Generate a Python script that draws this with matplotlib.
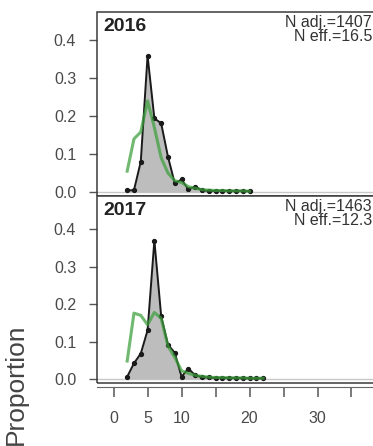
"""Age composition fit: observed vs expected proportions, 2016 and 2017."""

import matplotlib
matplotlib.use("Agg")
import matplotlib.pyplot as plt
from matplotlib.patches import Rectangle

plt.rcParams["font.family"] = ["Liberation Sans", "DejaVu Sans"]

# --- data ------------------------------------------------------------------
ages_2016 = list(range(2, 21))
obs_2016 = [0.004, 0.005, 0.080, 0.359, 0.194, 0.181, 0.093, 0.023, 0.033,
            0.007, 0.014, 0.005, 0.003, 0.003, 0.003, 0.003, 0.003, 0.003, 0.002]
exp_2016 = [0.055, 0.140, 0.158, 0.240, 0.170, 0.090, 0.050, 0.030, 0.025,
            0.014, 0.010, 0.006, 0.005, 0.004, 0.004, 0.003, 0.003, 0.003, 0.002]

ages_2017 = list(range(2, 23))
obs_2017 = [0.006, 0.042, 0.068, 0.130, 0.370, 0.168, 0.092, 0.070, 0.006,
            0.028, 0.010, 0.005, 0.004, 0.003, 0.003, 0.003, 0.003, 0.002,
            0.002, 0.002, 0.002]
exp_2017 = [0.048, 0.176, 0.170, 0.145, 0.178, 0.162, 0.088, 0.058, 0.022,
            0.015, 0.010, 0.007, 0.005, 0.004, 0.004, 0.003, 0.003, 0.003,
            0.002, 0.002, 0.002]

years = ["2016", "2017"]
n_adj = ["1407", "1463"]
n_eff = ["16.5", "12.3"]

x_ticks = [0, 5, 10, 15, 20, 25, 30, 35]
x_ticklabels = ["0", "5", "10", "", "20", "", "30", ""]
y_ticks = [0.0, 0.1, 0.2, 0.3, 0.4]

GREY_TXT = "#4a4a4a"
FRAME = "#3a3a3a"

W, H = 373, 446
fig = plt.figure(figsize=(W / 100, H / 100), dpi=100)
ax1 = fig.add_axes([97 / W, 1 - 196 / H, 281 / W, 184 / H])
ax2 = fig.add_axes([97 / W, 1 - 383 / H, 281 / W, 187 / H])

panels = [
    (ax1, ages_2016, obs_2016, exp_2016, (-0.0105, 0.474)),
    (ax2, ages_2017, obs_2017, exp_2017, (-0.0107, 0.489)),
]

for i, (ax, ages, obs, exp, ylim) in enumerate(panels):
    ax.fill_between(ages, 0, obs, color="#bdbdbd", lw=0, zorder=1)
    ax.axhline(0, color="#c8c8c8", lw=1.0, zorder=0.5)
    ax.plot(ages, obs, color="#1a1a1a", lw=1.4, marker="o", ms=2.8, zorder=3)
    ax.plot(ages, exp, color="#3a9f3a", lw=2.2, alpha=0.72, zorder=4)

    ax.set_xlim(-2.44, 38.9)
    ax.set_ylim(*ylim)
    ax.set_yticks(y_ticks)
    ax.set_yticklabels([f"{v:.1f}" for v in y_ticks])
    ax.tick_params(axis="y", direction="out", length=6, width=1, color="#555555",
                   labelsize=11.5, labelcolor=GREY_TXT, pad=9)

    for s in ax.spines.values():
        s.set_visible(False)
    ax.add_patch(Rectangle((0, 0), 1, 1, transform=ax.transAxes, fill=False,
                           ec=FRAME, lw=1.1, clip_on=False, zorder=5))

    ax.text(0.022, 0.968, years[i], transform=ax.transAxes, ha="left", va="top",
            fontsize=14, fontweight="bold", color="#222222")
    # keep the label inside the picture (the axes run a few px past the edge)
    ax.text((372 - 97) / 281, 0.985, f"N adj.={n_adj[i]}\nN eff.={n_eff[i]}",
            transform=ax.transAxes, ha="right", va="top", fontsize=11.5,
            color="#333333", linespacing=0.92)

    if i == 0:
        ax.set_xticks([])
    else:
        ax.spines["bottom"].set_visible(True)
        ax.spines["bottom"].set_position(("outward", 3))
        ax.spines["bottom"].set_color("#666666")
        ax.set_xticks(x_ticks)
        ax.set_xticklabels(x_ticklabels)
        ax.tick_params(axis="x", direction="out", length=7, width=1.1,
                       color="#555555", labelsize=11.5, labelcolor=GREY_TXT, pad=10)

fig.text(16 / W, 1 - 384 / H, "Proportion", rotation=90, ha="center", va="center",
         fontsize=19, color="#444444")

fig.savefig("out.png", dpi=100)
